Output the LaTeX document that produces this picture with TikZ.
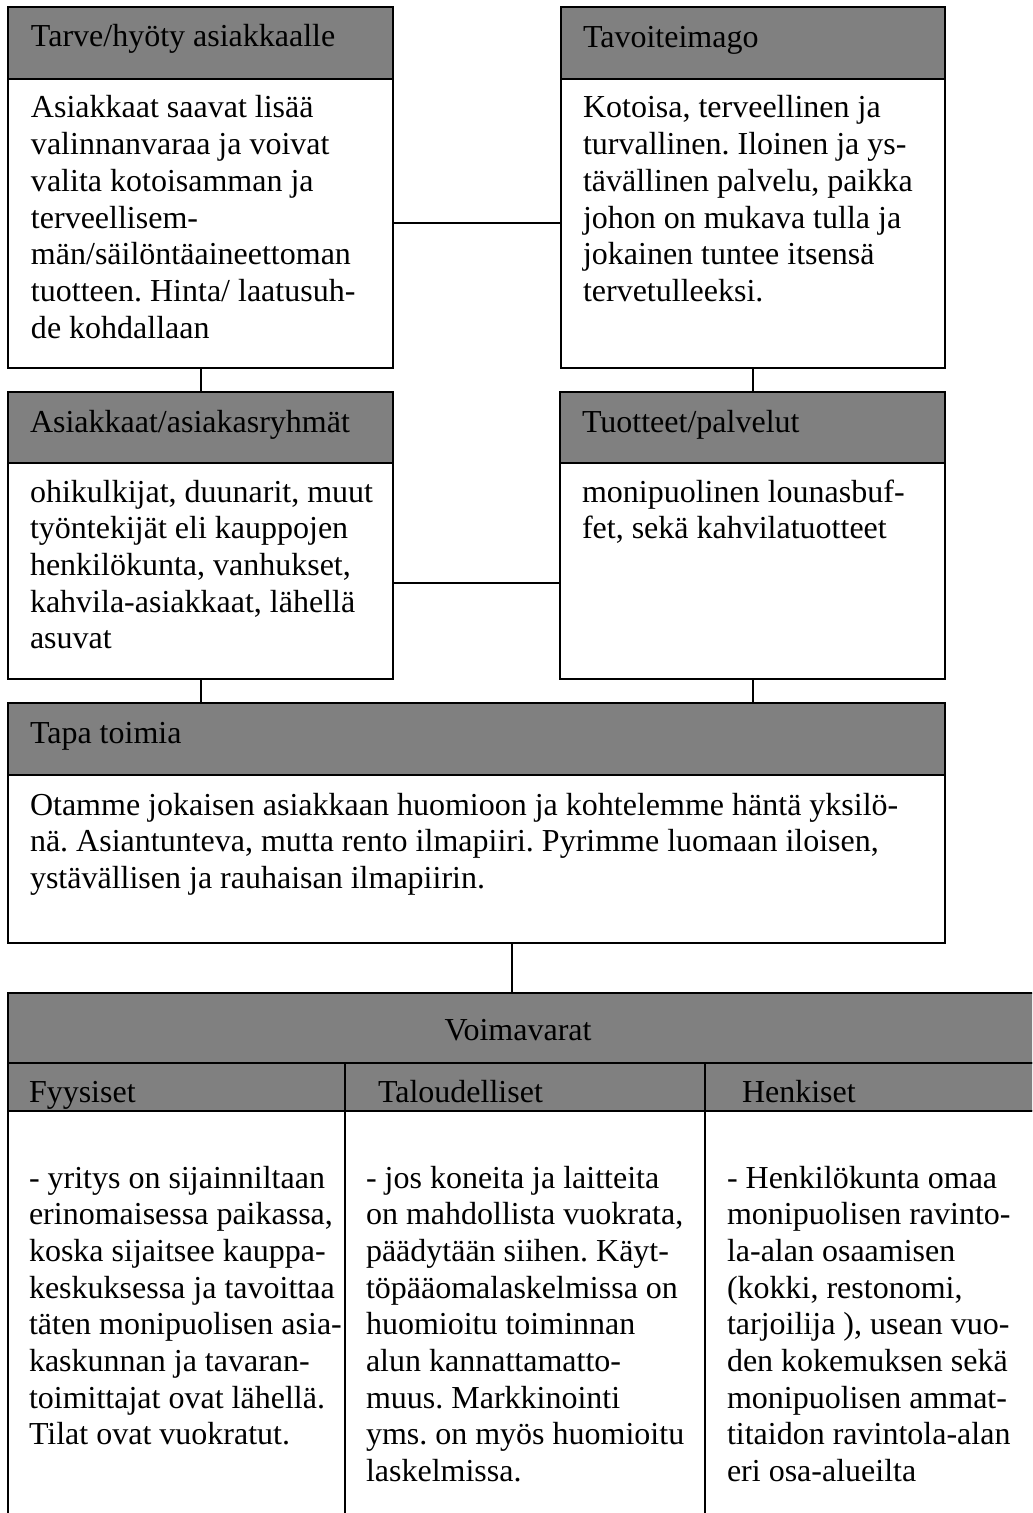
\documentclass[tikz,border=0pt]{standalone}
\usepackage{fontspec}
\setmainfont{Liberation Serif}
\definecolor{hdrgray}{HTML}{808080}
\frenchspacing
\begin{document}
\begin{tikzpicture}[x=0.5pt,y=-0.5pt, line width=1pt,
  hdr/.style={draw=black, fill=hdrgray, inner sep=0pt, outer sep=0pt},
  bdy/.style={draw=black, fill=white, inner sep=0pt, outer sep=0pt},
  txt/.style={font=\fontsize{16}{18.35}\selectfont\frenchspacing, align=left, inner sep=0pt, anchor=base west},
  conn/.style={draw=black, line width=1pt}]
\useasboundingbox (0,0) rectangle (1032,1513);
\clip (0,0) rectangle (1032,1513);
\fill[white] (0,0) rectangle (1032,1513);

% Box 1
\node[bdy, minimum width=192.5pt, minimum height=144.5pt] (b1) at (200.5,223.5) {};
\node[hdr, minimum width=192.5pt, minimum height=36pt] (h1) at (200.5,43) {};
% Box 2
\node[bdy, minimum width=192pt, minimum height=144.5pt] (b2) at (753,223.5) {};
\node[hdr, minimum width=192pt, minimum height=36pt] (h2) at (753,43) {};
% Box 3
\node[bdy, minimum width=192.5pt, minimum height=108pt] (b3) at (200.5,571) {};
\node[hdr, minimum width=192.5pt, minimum height=35.5pt] (h3) at (200.5,427.5) {};
% Box 4
\node[bdy, minimum width=192.5pt, minimum height=108pt] (b4) at (752.5,571) {};
\node[hdr, minimum width=192.5pt, minimum height=35.5pt] (h4) at (752.5,427.5) {};
% Tapa toimia
\node[bdy, minimum width=468.5pt, minimum height=84pt] (bt) at (476.5,859) {};
\node[hdr, minimum width=468.5pt, minimum height=36pt] (ht) at (476.5,739) {};
% Voimavarat
\node[hdr, minimum width=526pt, minimum height=35pt] (hv) at (534,1028) {};
\node[hdr, minimum width=168.5pt, minimum height=24pt] (s1) at (176.5,1087) {};
\node[hdr, minimum width=180pt, minimum height=24pt] (s2) at (525,1087) {};
\node[hdr, minimum width=177.5pt, minimum height=24pt] (s3) at (882.5,1087) {};
\node[bdy, minimum width=168.5pt, minimum height=214.5pt] (c1) at (176.5,1325.5) {};
\node[bdy, minimum width=180pt, minimum height=214.5pt] (c2) at (525,1325.5) {};
\node[bdy, minimum width=177.5pt, minimum height=214.5pt] (c3) at (882.5,1325.5) {};

% Connectors
\draw[conn] (b1) -- (b2);
\draw[conn] (b1.south) -- (b1.south |- h3.north);
\draw[conn] (b2.south) -- (b2.south |- h4.north);
\draw[conn] ([yshift=-6pt]b3.east) -- ([yshift=-6pt]b4.west);
\draw[conn] (b3.south) -- (b3.south |- ht.north);
\draw[conn] (b4.south) -- (b4.south |- ht.north);
\draw[conn] ([xshift=17.75pt]bt.south) -- ([xshift=17.75pt]bt.south |- hv.north);

% Texts (multi-line nodes are placed at the baseline of their last line)
\node[txt] (t1h) at (30,47) {Tarve/hyöty asiakkaalle};
\node[txt] (t1b) at (30,338.2) {Asiakkaat saavat lisää\\valinnanvaraa ja voivat\\valita kotoisamman ja\\terveellisem-\\män/säilöntäaineettoman\\tuotteen. Hinta/ laatusuh-\\de kohdallaan};
\node[txt] (t2h) at (582,48) {Tavoiteimago};
\node[txt] (t2b) at (582,301.5) {Kotoisa, terveellinen ja\\turvallinen. Iloinen ja ys-\\tävällinen palvelu, paikka\\johon on mukava tulla ja\\jokainen tuntee itsensä\\tervetulleeksi.};
\node[txt] (t3h) at (29,432) {Asiakkaat/asiakasryhmät};
\node[txt] (t3b) at (29,648.8) {ohikulkijat, duunarit, muut\\työntekijät eli kauppojen\\henkilökunta, vanhukset,\\kahvila-asiakkaat, lähellä\\asuvat};
\node[txt] (t4h) at (581,432) {Tuotteet/palvelut};
\node[txt] (t4b) at (581,538.7) {monipuolinen lounasbuf-\\fet, sekä kahvilatuotteet};
\node[txt] (tth) at (29,743) {Tapa toimia};
\node[txt] (ttb) at (29,888.4) {Otamme jokaisen asiakkaan huomioon ja kohtelemme häntä yksilö-\\nä. Asiantunteva, mutta rento ilmapiiri. Pyrimme luomaan iloisen,\\ystävällisen ja rauhaisan ilmapiirin.};
\node[txt, anchor=base] (tvh) at (518,1040) {Voimavarat};
\node[txt] (ts1) at (28,1102) {Fyysiset};
\node[txt] (ts2) at (377,1102) {Taloudelliset};
\node[txt] (ts3) at (741,1102) {Henkiset};
\node[txt] (tc1) at (28,1444.9) {- yritys on sijainniltaan\\erinomaisessa paikassa,\\koska sijaitsee kauppa-\\keskuksessa ja tavoittaa\\täten monipuolisen asia-\\kaskunnan ja tavaran-\\toimittajat ovat lähellä.\\Tilat ovat vuokratut.};
\node[txt] (tc2) at (365,1481.6) {- jos koneita ja laitteita\\on mahdollista vuokrata,\\päädytään siihen. Käyt-\\töpääomalaskelmissa on\\huomioitu toiminnan\\alun kannattamatto-\\muus. Markkinointi\\yms. on myös huomioitu\\laskelmissa.};
\node[txt] (tc3) at (726,1481.6) {- Henkilökunta omaa\\monipuolisen ravinto-\\la-alan osaamisen\\(kokki, restonomi,\\tarjoilija ), usean vuo-\\den kokemuksen sekä\\monipuolisen ammat-\\titaidon ravintola-alan\\eri osa-alueilta};
\end{tikzpicture}
\end{document}
